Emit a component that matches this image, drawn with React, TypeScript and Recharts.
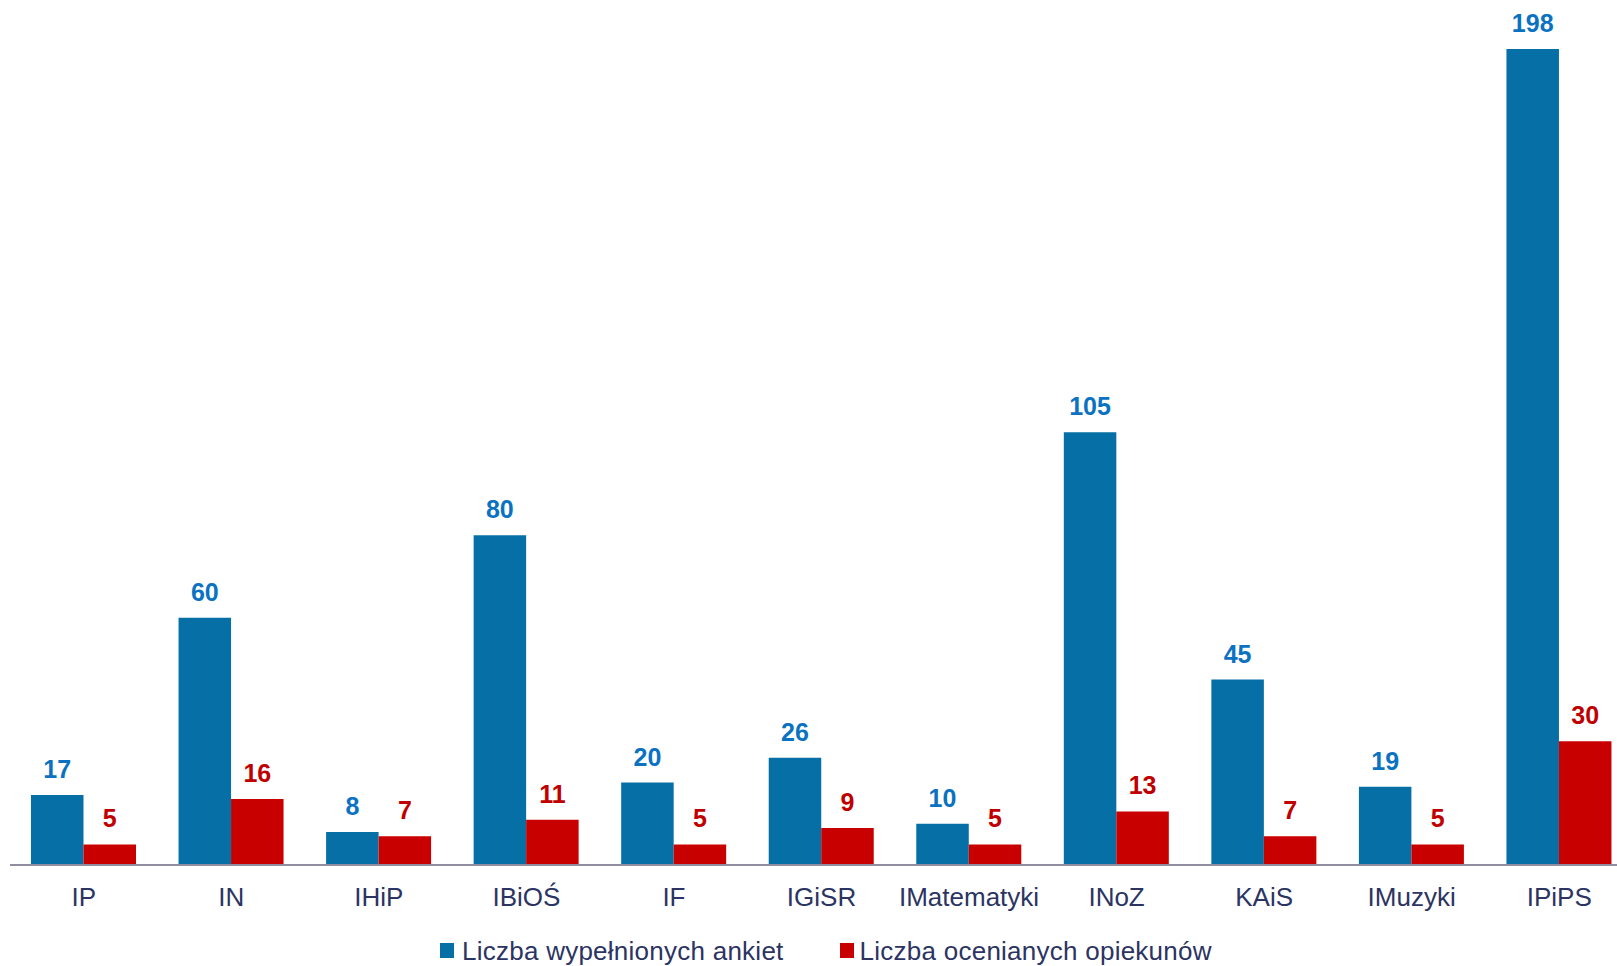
import React from "react"
import { BarChart, Bar, XAxis, YAxis, Legend, LabelList } from "recharts"

const categories = ["IP", "IN", "IHiP", "IBiOŚ", "IF", "IGiSR", "IMatematyki", "INoZ", "KAiS", "IMuzyki", "IPiPS"]
const surveys = [17, 60, 8, 80, 20, 26, 10, 105, 45, 19, 198]
const tutors = [5, 16, 7, 11, 5, 9, 5, 13, 7, 5, 30]

const SURVEYS_NAME = "Liczba wypełnionych ankiet"
const TUTORS_NAME = "Liczba ocenianych opiekunów"

const data = categories.map((name, i) => ({
  name,
  surveys: surveys[i],
  tutors: tutors[i],
}))

const FONT = "'Liberation Sans', Arial, sans-serif"

const makeLabel = (color: string) => (props: any) => {
  const { x, y, width, value } = props
  return (
    <text
      x={Number(x) + Number(width) / 2}
      y={Number(y) - 17}
      textAnchor="middle"
      fill={color}
      fontSize={25}
      fontWeight="bold"
      fontFamily={FONT}
    >
      {value}
    </text>
  )
}

const LegendContent = () => (
  <div
    style={{
      display: "flex",
      alignItems: "center",
      height: 51,
      boxSizing: "border-box",
      paddingTop: 20,
      paddingLeft: 430,
      fontFamily: FONT,
      fontSize: 26,
      lineHeight: "30px",
      color: "#2b3462",
      whiteSpace: "nowrap",
    }}
  >
    <span style={{ width: 14, height: 15, background: "#066fa5", marginRight: 8, display: "inline-block" }} />
    <span style={{ letterSpacing: 0.25 }}>{SURVEYS_NAME}</span>
    <span style={{ width: 14, height: 15, background: "#c80000", marginLeft: 56, marginRight: 6, display: "inline-block" }} />
    <span style={{ letterSpacing: 0.25 }}>{TUTORS_NAME}</span>
  </div>
)

export default function App() {
  return (
    <div style={{ position: "absolute", left: 0, top: 0, width: 1617, height: 966, overflow: "hidden", background: "#fff" }}>
      <BarChart
        width={1633}
        height={966}
        data={data}
        margin={{ top: 49, right: 0, left: 10, bottom: 0 }}
        barGap={0}
      >
        <XAxis
          dataKey="name"
          axisLine={{ stroke: "#8e8ea0", strokeWidth: 2 }}
          tickLine={false}
          tickSize={0}
          tickMargin={23}
          height={50}
          interval={0}
          tick={{ fill: "#2b3462", fontSize: 26, fontFamily: FONT }}
        />
        <YAxis hide domain={[0, 198]} />
        <Legend verticalAlign="bottom" content={<LegendContent />} />
        <Bar dataKey="surveys" name={SURVEYS_NAME} fill="#066fa5" barSize={52.5} isAnimationActive={false}>
          <LabelList dataKey="surveys" content={makeLabel("#0b72c2")} />
        </Bar>
        <Bar dataKey="tutors" name={TUTORS_NAME} fill="#c80000" barSize={52.5} isAnimationActive={false}>
          <LabelList dataKey="tutors" content={makeLabel("#c00000")} />
        </Bar>
      </BarChart>
    </div>
  )
}
